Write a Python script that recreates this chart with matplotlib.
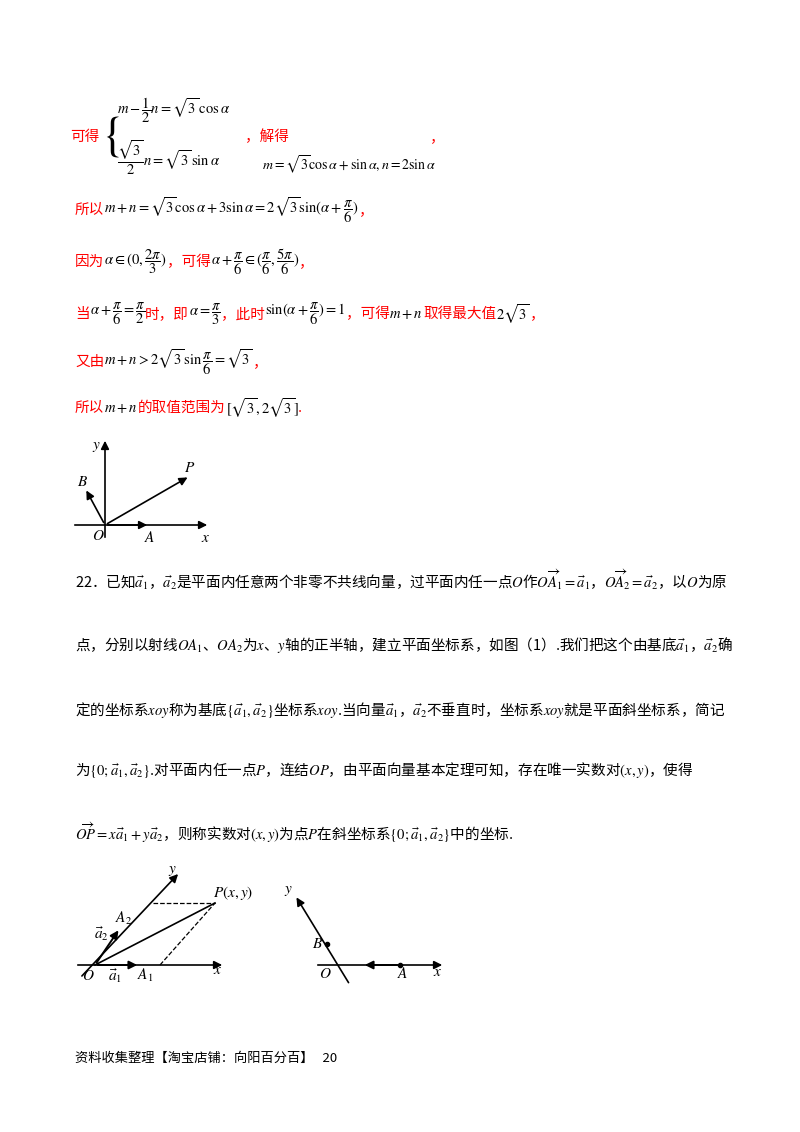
import matplotlib
matplotlib.use("Agg")
import matplotlib.pyplot as plt
from matplotlib.patches import FancyArrowPatch
plt.rcParams['font.family'] = ['Noto Sans CJK SC', 'DejaVu Sans']
plt.rcParams['mathtext.fontset'] = 'stix'

W, H = 800, 1132
fig = plt.figure(figsize=(8, 11.32), dpi=100)
ax = fig.add_axes([0, 0, 1, 1])
ax.set_xlim(0, W); ax.set_ylim(H, 0); ax.axis('off')
fig.canvas.draw()
R = fig.canvas.get_renderer()
RED = '#ff0000'

def line(x, y, segs, fs=10.5):
    for s, c in segs:
        t = ax.text(x, y, s, color=c, fontsize=fs, va='center', ha='left')
        bb = t.get_window_extent(renderer=R)
        x += bb.width * (W / fig.bbox.width)

K = 'black'
# system
ax.text(101, 135, r'$\{$', fontsize=34, va='center', color=K)
line(70, 137, [('可得', RED)])
line(117, 110, [(r'$m-\dfrac{1}{2}n=\sqrt{3}\,\cos\alpha$', K)])
line(117, 158, [(r'$\dfrac{\sqrt{3}}{2}n=\sqrt{3}\,\sin\alpha$', K)])
line(245, 137, [('，解得', RED)])
line(430, 137, [('，', RED)])
line(262, 165, [(r'$m=\sqrt{3}\cos\alpha+\sin\alpha, n=2\sin\alpha$', K)], fs=10)
line(75, 210, [('所以', RED), (r'$m+n=\sqrt{3}\cos\alpha+3\sin\alpha=2\sqrt{3}\sin(\alpha+\dfrac{\pi}{6})$', K), ('，', RED)])
line(75, 262, [('因为', RED), (r'$\alpha\in(0,\dfrac{2\pi}{3})$', K), ('，可得', RED),
               (r'$\alpha+\dfrac{\pi}{6}\in(\dfrac{\pi}{6},\dfrac{5\pi}{6})$', K), ('，', RED)])
line(75, 314, [('当', RED), (r'$\alpha+\dfrac{\pi}{6}=\dfrac{\pi}{2}$', K), ('时，即', RED),
               (r'$\alpha=\dfrac{\pi}{3}$', K), ('，此时', RED), (r'$\sin(\alpha+\dfrac{\pi}{6})=1$', K),
               ('，可得', RED), (r'$m+n$', K), ('取得最大值', RED), (r'$2\sqrt{3}$', K), ('，', RED)])
line(75, 362, [('又由', RED), (r'$m+n>2\sqrt{3}\,\sin\dfrac{\pi}{6}=\sqrt{3}$', K), ('，', RED)])
line(75, 408, [('所以', RED), (r'$m+n$', K), ('的取值范围为', RED), (r'$[\sqrt{3},2\sqrt{3}]$', K), ('.', RED)])

def arr(x0, y0, x1, y1, lw=1.2):
    ax.add_patch(FancyArrowPatch((x0, y0), (x1, y1), arrowstyle='-|>', mutation_scale=12, lw=lw, color='black'))
def lab(x, y, s, fs=11):
    ax.text(x, y, s, fontsize=fs, va='center', ha='center', color='black')

# diagram 1
arr(72, 525, 210, 525); arr(105, 540, 105, 438)
arr(105, 525, 150, 525); arr(105, 525, 85, 488); arr(105, 525, 190, 476)
lab(98, 535, r'$O$'); lab(150, 537, r'$A$'); lab(83, 482, r'$B$'); lab(190, 468, r'$P$'); lab(96, 445, r'$y$'); lab(206, 537, r'$x$')

# problem 22
line(75, 580, [(r'22．已知$\vec{a}_1$，$\vec{a}_2$是平面内任意两个非零不共线向量，过平面内任一点$O$作$\overrightarrow{OA_1}=\vec{a}_1$，$\overrightarrow{OA_2}=\vec{a}_2$，以$O$为原', K)])
line(75, 645, [(r'点，分别以射线$OA_1$、$OA_2$为$x$、$y$轴的正半轴，建立平面坐标系，如图（1）.我们把这个由基底$\vec{a}_1$，$\vec{a}_2$确', K)])
line(75, 710, [(r'定的坐标系$xoy$称为基底$\{\vec{a}_1,\vec{a}_2\}$坐标系$xoy$.当向量$\vec{a}_1$，$\vec{a}_2$不垂直时，坐标系$xoy$就是平面斜坐标系，简记', K)])
line(75, 770, [(r'为$\{0;\vec{a}_1,\vec{a}_2\}$.对平面内任一点$P$，连结$OP$，由平面向量基本定理可知，存在唯一实数对$(x,y)$，使得', K)])
line(75, 833, [(r'$\overrightarrow{OP}=x\vec{a}_1+y\vec{a}_2$，则称实数对$(x,y)$为点$P$在斜坐标系$\{0;\vec{a}_1,\vec{a}_2\}$中的坐标.', K)])

# diagram 2 left
arr(75, 965, 225, 965)
arr(80, 978, 180, 872)
ax.plot([95, 215], [965, 903], color='black', lw=1.2)
ax.plot([153, 215], [903, 903], '--', color='black', lw=0.9)
ax.plot([160, 215], [965, 903], '--', color='black', lw=0.9)
arr(95, 965, 120, 928, lw=1.4); arr(95, 965, 140, 965, lw=1.4)
lab(88, 976, r'$O$'); lab(145, 975, r'$A_1$'); lab(124, 918, r'$A_2$'); lab(101, 934, r'$\vec{a}_2$'); lab(115, 976, r'$\vec{a}_1$')
lab(233, 893, r'$P(x,y)$'); lab(172, 870, r'$y$'); lab(218, 969, r'$x$')
# right
arr(315, 965, 445, 965)
arr(350, 985, 295, 895)
arr(400, 965, 362, 965, lw=1.4)
ax.plot([400], [965], 'ko', ms=3); ax.plot([327], [944], 'ko', ms=3)
lab(325, 973, r'$O$'); lab(403, 974, r'$A$'); lab(318, 944, r'$B$'); lab(288, 890, r'$y$'); lab(438, 972, r'$x$')

ax.text(75, 1058, '资料收集整理【淘宝店铺：向阳百分百】   20', fontsize=9.5, va='center', color='black')
fig.savefig('out.png', dpi=100)
